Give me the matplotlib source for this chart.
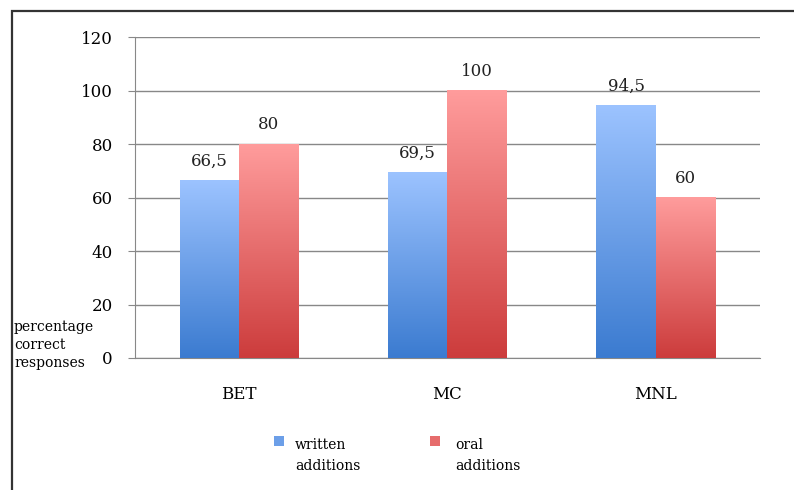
import matplotlib.pyplot as plt
import numpy as np
from matplotlib.colors import LinearSegmentedColormap
from matplotlib.patches import Rectangle

categories = ["BET", "MC", "MNL"]
written = [66.5, 69.5, 94.5]
oral = [80, 100, 60]
series_names = ["written\nadditions", "oral\nadditions"]
yticks = [0, 20, 40, 60, 80, 100, 120]

blue_cmap = LinearSegmentedColormap.from_list("blue", ["#3b7bd0", "#9cc3ff"])
red_cmap = LinearSegmentedColormap.from_list("red", ["#cc3c3c", "#ff9c9c"])

plt.rcParams["font.family"] = ["DejaVu Serif"]

fig = plt.figure(figsize=(7.94, 4.90), dpi=100)
ax = fig.add_axes([0.170, 0.2694, 0.787, 0.655])

# outer frame (cut off at right and bottom)
fig.patches.append(Rectangle((12 / 794, -0.1), 1.0, (490 - 11) / 490 + 0.1,
                             transform=fig.transFigure, fill=False,
                             edgecolor="#333333", linewidth=1.6))

x = np.arange(len(categories))
w = 0.285


def gradient_bars(bars, cmap):
    grad = np.linspace(0, 1, 256).reshape(-1, 1)
    for b in bars:
        x0, h, bw = b.get_x(), b.get_height(), b.get_width()
        ax.imshow(grad, cmap=cmap, origin="lower", aspect="auto",
                  extent=(x0, x0 + bw, 0, h), zorder=3)


b1 = ax.bar(x - w / 2, written, w, facecolor="none", edgecolor="none", zorder=3)
b2 = ax.bar(x + w / 2, oral, w, facecolor="none", edgecolor="none", zorder=3)
gradient_bars(b1, blue_cmap)
gradient_bars(b2, red_cmap)

for bars, vals in ((b1, written), (b2, oral)):
    for b, v in zip(bars, vals):
        ax.text(b.get_x() + b.get_width() / 2, v + 4.0,
                f"{v:g}".replace(".", ","), ha="center", va="bottom",
                fontsize=12, color="#222222")

ax.set_xlim(-0.5, len(categories) - 0.5)
ax.set_ylim(0, 120)
ax.set_yticks(yticks)
ax.set_xticks(x)
ax.set_xticklabels(categories, fontsize=12)
ax.tick_params(axis="y", labelsize=12, length=5, color="#888888", pad=11)
ax.tick_params(axis="x", length=0, pad=20)
ax.yaxis.grid(True, color="#888888", linewidth=1)
ax.set_axisbelow(True)
for s in ("top", "right"):
    ax.spines[s].set_visible(False)
for s in ("left", "bottom"):
    ax.spines[s].set_color("#888888")

fig.text(14 / 794, 1 - 345 / 490, "percentage\ncorrect\nresponses",
         fontsize=10, va="center", ha="left", linespacing=1.35)

# legend
for (sx, tx), cmap, name in zip(((274, 295), (430, 455)),
                               (blue_cmap, red_cmap), series_names):
    fig.patches.append(Rectangle((sx / 794, 1 - 446 / 490), 10 / 794, 10 / 490,
                                 transform=fig.transFigure,
                                 facecolor=cmap(0.5), edgecolor="none"))
    fig.text(tx / 794, 1 - 438 / 490, name, fontsize=10, va="top", ha="left",
             linespacing=1.65)

fig.savefig("out.png", dpi=100)
